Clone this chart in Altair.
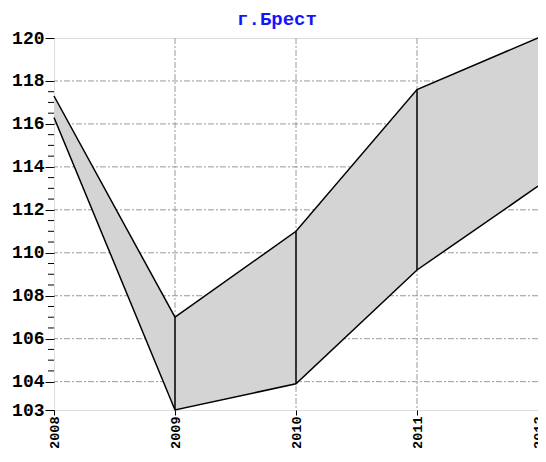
import altair as alt
import pandas as pd

years = [2008, 2009, 2010, 2011, 2012]
upper = [117.3, 107.0, 111.0, 117.6, 120.0]
lower = [116.3, 102.68, 103.9, 109.2, 113.1]
y_min, y_max = 102.68, 120.0
y_major = [102.68, 104, 106, 108, 110, 112, 114, 116, 118, 120]
y_grid = [104, 106, 108, 110, 112, 114, 116, 118]
y_minor = [v / 2 for v in range(209, 236) if v % 4 != 0]
x_grid = [2009, 2010, 2011]
vert_years = [2009, 2010, 2011]

FONT = "Liberation Mono"

df = pd.DataFrame({"year": years, "upper": upper, "lower": lower})
df_vert = df[df["year"].isin(vert_years)]
df_ygrid = pd.DataFrame({"v": y_grid})
df_xgrid = pd.DataFrame({"v": x_grid})
df_minor = pd.DataFrame({"v": y_minor})

xscale = alt.Scale(domain=[2008, 2012], nice=False, zero=False)
yscale = alt.Scale(domain=[y_min, y_max], nice=False, zero=False)

xax = alt.Axis(values=years, format="d", labelAngle=270, grid=False, domain=False,
               tickColor="#000", tickSize=5, tickWidth=1, labelFont=FONT, labelFontSize=13.5,
               labelFontWeight="bold", labelColor="#000", labelPadding=1, title=None,
               labelFlush=False, labelOverlap=False)
yax = alt.Axis(values=y_major, format=".0f", grid=False, domain=False,
               tickColor="#000", tickSize=9, tickWidth=1, labelFont=FONT, labelFontSize=18,
               labelFontWeight="bold", labelColor="#000", labelPadding=1, title=None,
               labelFlush=False, labelOverlap=False)

dash = [6, 2, 2, 2]
ygrid = alt.Chart(df_ygrid).mark_rule(color="#9a9a9a", strokeDash=dash, strokeWidth=1).encode(
    y=alt.Y("v:Q", scale=yscale, axis=yax))
xgrid = alt.Chart(df_xgrid).mark_rule(color="#9a9a9a", strokeDash=dash, strokeWidth=1).encode(
    x=alt.X("v:Q", scale=xscale, axis=xax))
area = alt.Chart(df).mark_area(color="#d4d4d4", opacity=1).encode(
    x=alt.X("year:Q", scale=xscale, axis=xax),
    y=alt.Y("upper:Q", scale=yscale, axis=yax),
    y2="lower:Q")
up_line = alt.Chart(df).mark_line(color="#000", strokeWidth=1.5).encode(
    x=alt.X("year:Q", scale=xscale), y=alt.Y("upper:Q", scale=yscale))
lo_line = alt.Chart(df).mark_line(color="#000", strokeWidth=1.5).encode(
    x=alt.X("year:Q", scale=xscale), y=alt.Y("lower:Q", scale=yscale))
vert = alt.Chart(df_vert).mark_rule(color="#000", strokeWidth=1.5).encode(
    x=alt.X("year:Q", scale=xscale), y=alt.Y("upper:Q", scale=yscale), y2="lower:Q")
minor = alt.Chart(df_minor).mark_rule(color="#000", strokeWidth=1, clip=False).encode(
    x=alt.value(-6), x2=alt.value(0), y=alt.Y("v:Q", scale=yscale))

chart = alt.layer(ygrid, xgrid, area, up_line, lo_line, vert, minor).properties(
    width=484, height=372,
    title=alt.TitleParams("г.Брест", font=FONT, fontSize=19, color="#1414ff",
                          fontWeight="bold", offset=2, anchor="middle", dx=-19, dy=2),
    autosize=alt.AutoSizeParams(type="none"),
    padding={"left": 46, "top": 30, "right": 0, "bottom": 38},
).configure_view(stroke="#000", strokeWidth=1.5).configure(background="#ffffff")

chart.save("out.html", embed_options={"renderer": "svg", "actions": False})
